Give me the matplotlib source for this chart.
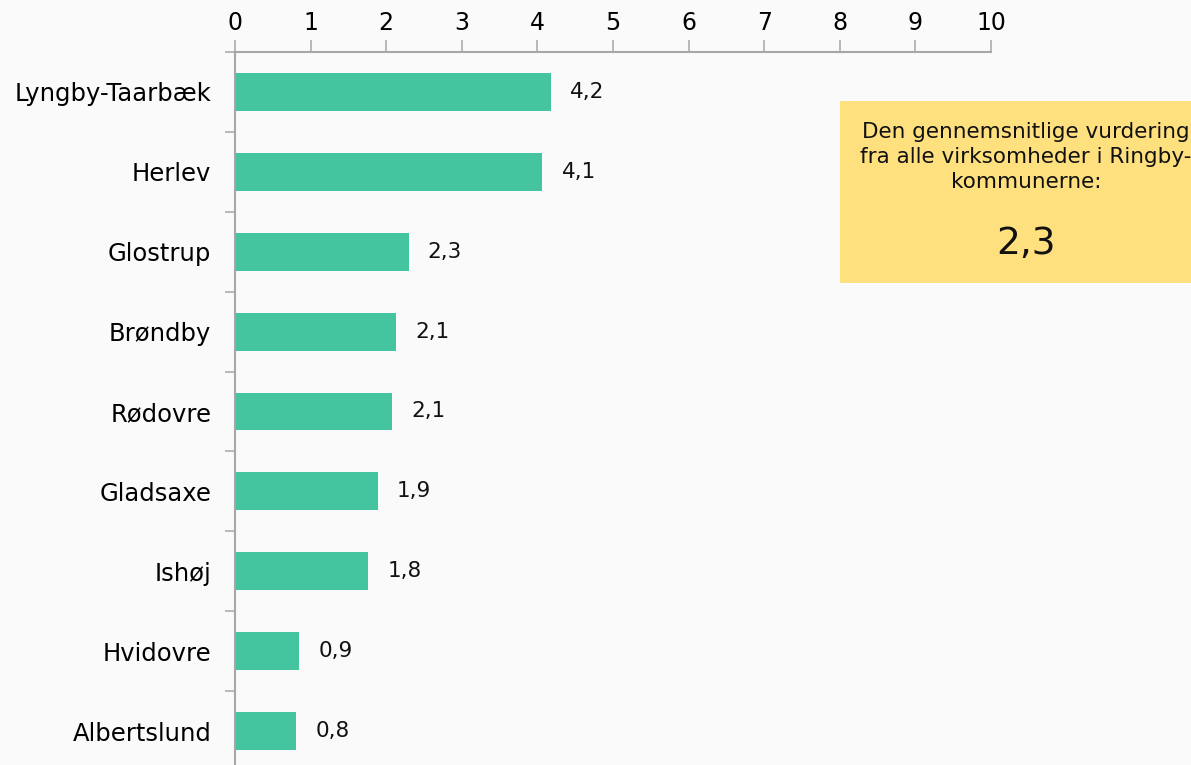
import matplotlib.pyplot as plt
from matplotlib.patches import Rectangle

kommuner = ["Lyngby-Taarbæk", "Herlev", "Glostrup", "Brøndby", "Rødovre",
            "Gladsaxe", "Ishøj", "Hvidovre", "Albertslund"]
vurdering = [4.16, 4.05, 2.28, 2.12, 2.06, 1.87, 1.75, 0.83, 0.79]
etiketter = ["4,2", "4,1", "2,3", "2,1", "2,1", "1,9", "1,8", "0,9", "0,8"]
gennemsnit = "2,3"
boks_tekst = "Den gennemsnitlige vurdering\nfra alle virksomheder i Ringby-\nkommunerne:"

bg = "#fafafa"
bar_farve = "#45c59f"
akse_farve = "#a6a6a6"

plt.rcParams["font.family"] = "DejaVu Sans"

fig = plt.figure(figsize=(11.91, 7.65), dpi=100, facecolor=bg)
ax = fig.add_axes([235 / 1191, 0, (991 - 235) / 1191, 1 - 52 / 765])
ax.set_facecolor(bg)

pos = list(range(len(kommuner)))
ax.barh(pos, vurdering, height=0.475, color=bar_farve, left=0.015)
for p, v, t in zip(pos, vurdering, etiketter):
    ax.text(v + 0.27, p, t, va="center", ha="left", fontsize=15.5, color="#111111")

ax.set_xlim(0, 10)
ax.set_ylim(8.5 - (771 - 765) / 80, -0.5)
ax.xaxis.tick_top()
ax.set_xticks(range(0, 11))
ax.tick_params(axis="x", direction="out", length=9, width=1.1, color=akse_farve,
               labelsize=17, pad=3)

ax.set_yticks(pos)
ax.set_yticklabels(kommuner, fontsize=17.5)
ax.set_yticks([p - 0.5 for p in pos], minor=True)
ax.tick_params(axis="y", which="major", length=0, pad=17)
ax.tick_params(axis="y", which="minor", direction="out", length=7, width=1.1,
               color=akse_farve)

for s in ["right", "bottom"]:
    ax.spines[s].set_visible(False)
for s in ["top", "left"]:
    ax.spines[s].set_color(akse_farve)
    ax.spines[s].set_linewidth(1.5)

# gul boks
fig.patches.append(Rectangle((840 / 1191, 1 - 283 / 765), 400 / 1191, 182 / 765,
                             transform=fig.transFigure, facecolor="#ffe07f",
                             edgecolor="none", zorder=0))
fig.text(1026 / 1191, 1 - 122 / 765, boks_tekst, ha="center", va="top",
         fontsize=15.5, linespacing=1.3, color="#111111")
fig.text(1026 / 1191, 1 - 244 / 765, gennemsnit, ha="center", va="center",
         fontsize=27, color="#111111")

fig.savefig("out.png", dpi=100, facecolor=bg)
